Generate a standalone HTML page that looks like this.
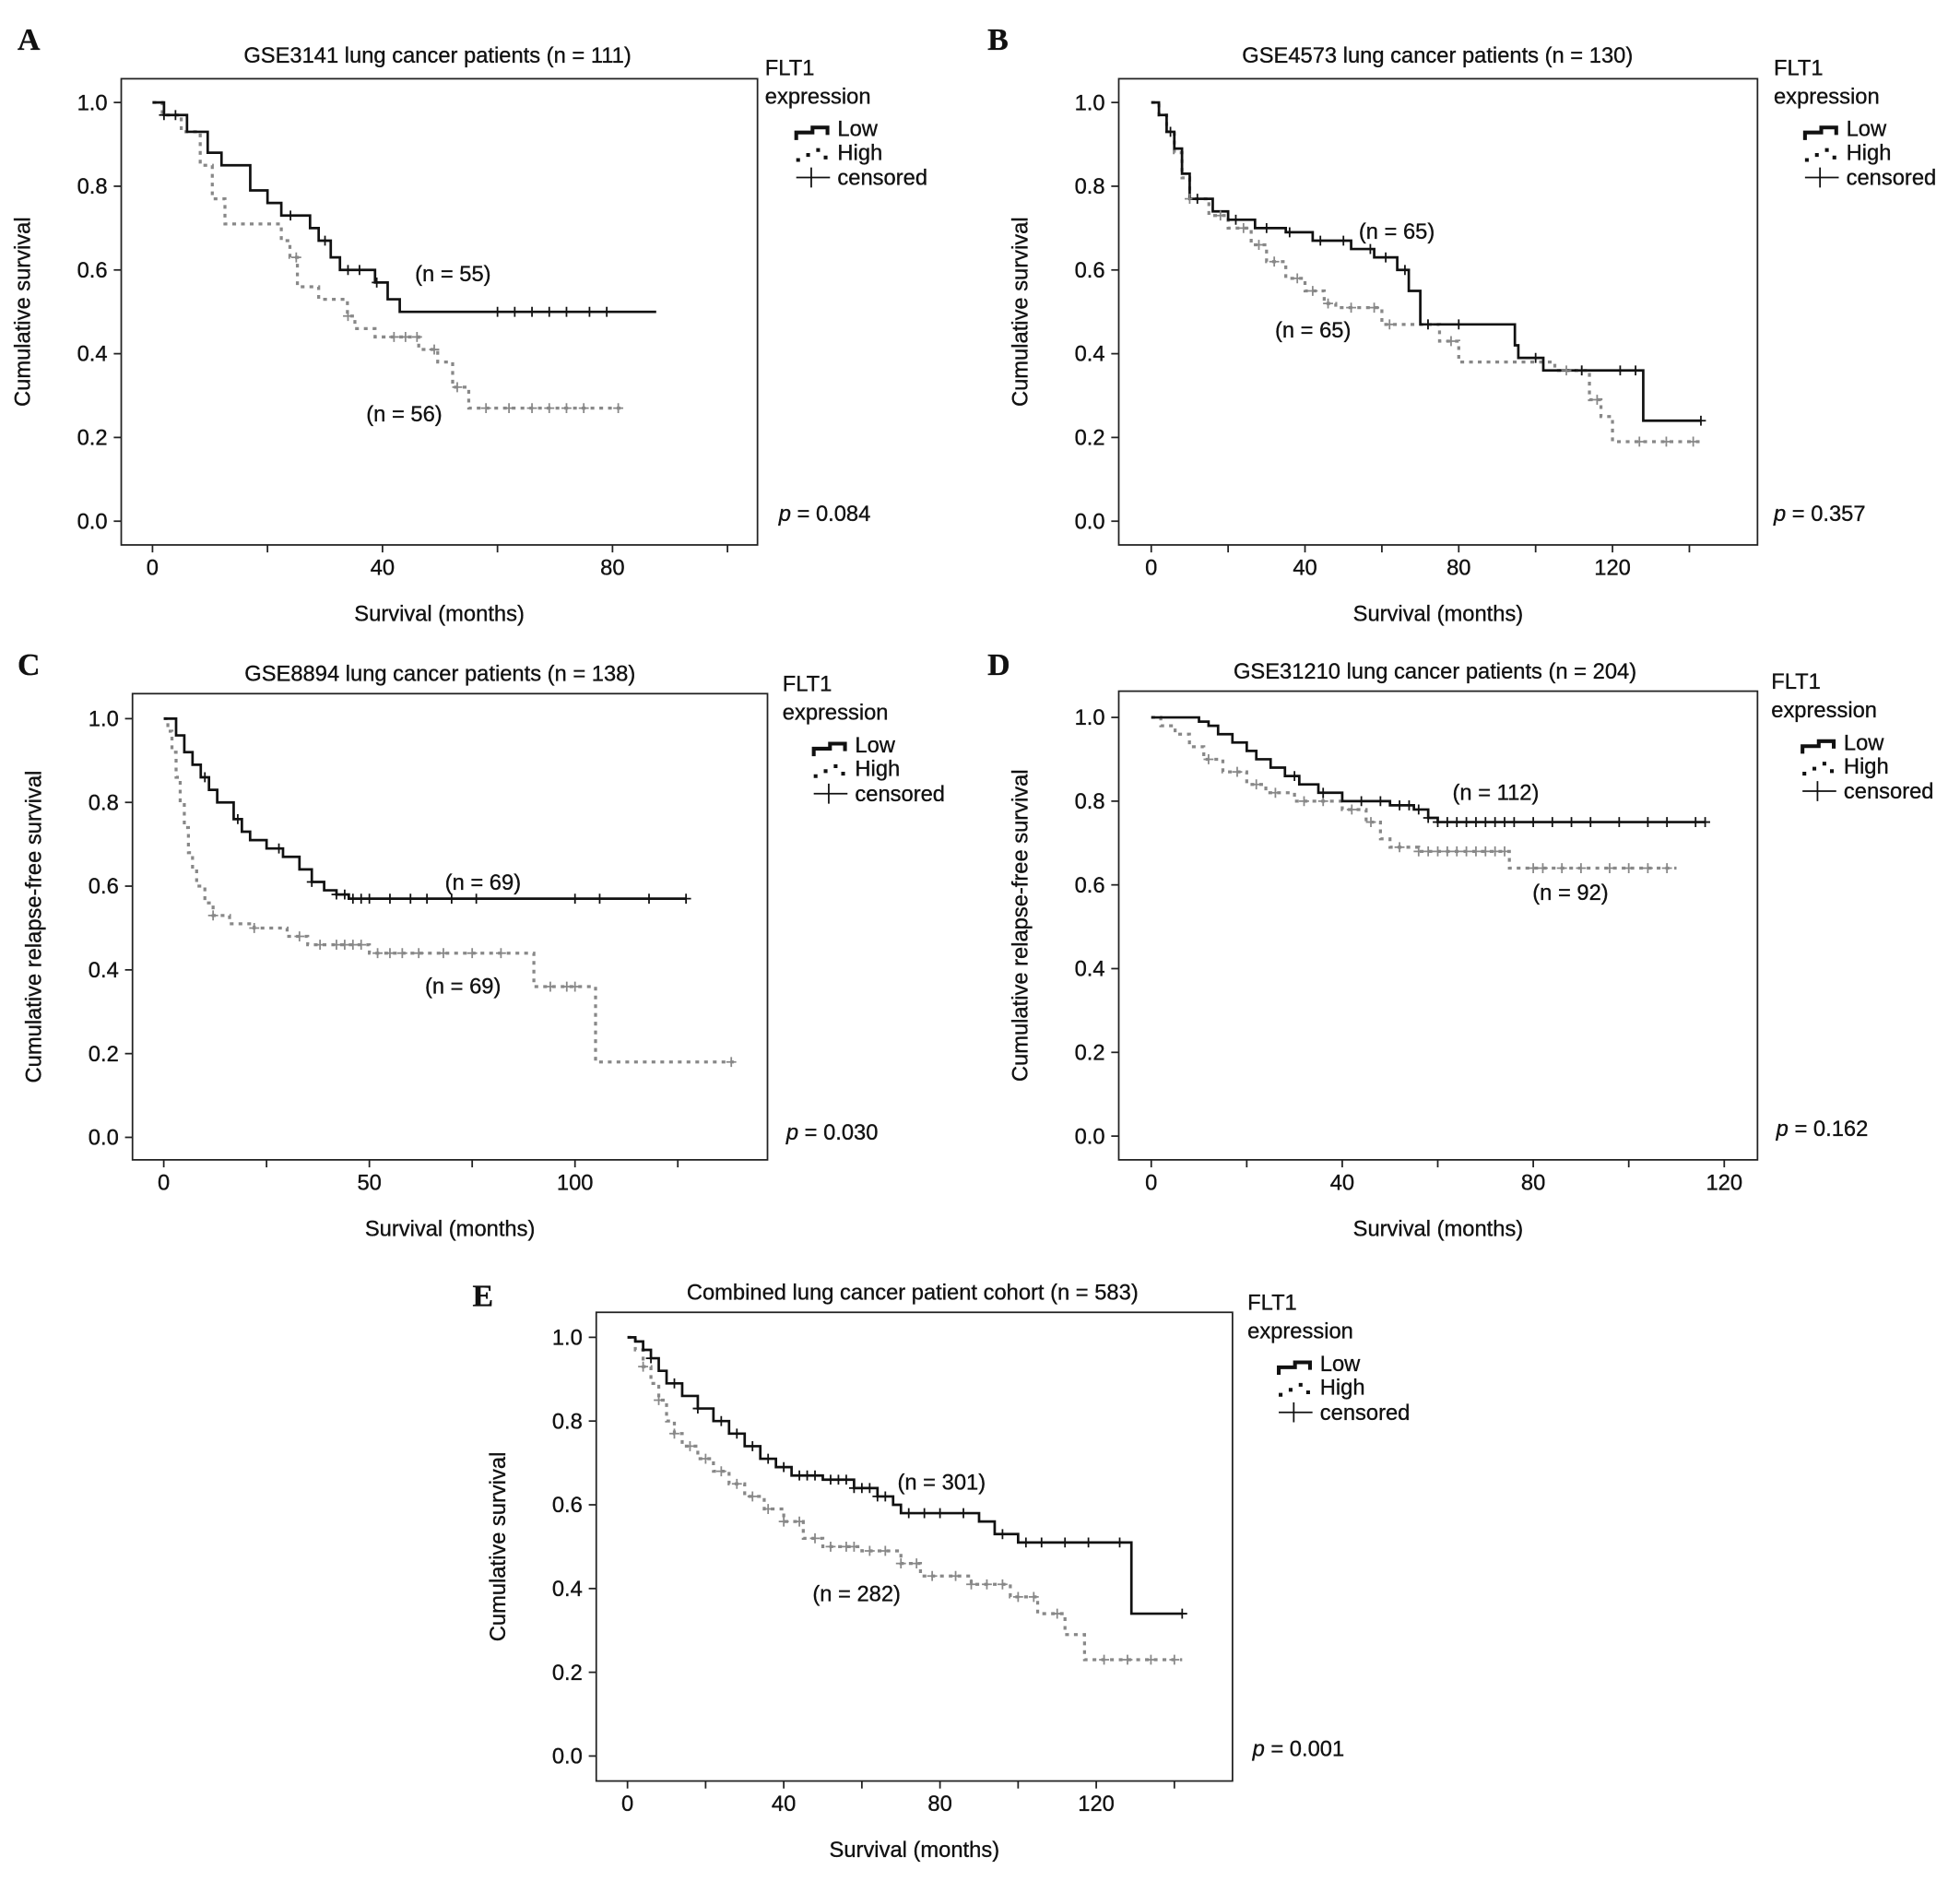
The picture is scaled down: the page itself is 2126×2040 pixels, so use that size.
<!DOCTYPE html>
<html><head><meta charset="utf-8"><style>
html,body{margin:0;padding:0;background:#fff;}
svg{display:block;}
text{font-family:"Liberation Sans",Arial,sans-serif;fill:#111;stroke:#111;stroke-width:0.25;}
</style></head><body>
<svg id="fig" width="2126" height="2040" viewBox="0 0 1568 1505" preserveAspectRatio="none" xmlns="http://www.w3.org/2000/svg"></svg>
<script>
// ---- Data (months, survival) ----
const aLow=[[0,1],[2,0.97],[6,0.93],[9.6,0.88],[12,0.85],[17,0.79],[20,0.76],[22.4,0.73],[27.4,0.70],[28.9,0.67],[31,0.63],[32.6,0.60],[38.7,0.57],[40.9,0.53],[43,0.50],[87.6,0.50]];
const aHigh=[[0,1],[1.7,0.97],[5,0.93],[8.3,0.85],[10.4,0.77],[12.6,0.71],[22.4,0.67],[23.9,0.63],[25.2,0.56],[28.9,0.53],[33.9,0.49],[35.2,0.46],[38.7,0.44],[46.3,0.41],[49.6,0.38],[52.2,0.32],[55,0.27],[81.5,0.27]];
const aLowC=[2,4,24,30,34,36,39,60,63,66,69,72,76,79];
const aHighC=[25,34,42,44,46,49,53,58,62,66,69,72,75,81];
const bLow=[[0,1],[2,0.97],[4,0.93],[6,0.89],[8,0.83],[10,0.77],[16,0.74],[20,0.72],[27,0.70],[35,0.69],[42,0.67],[52,0.65],[58,0.63],[64,0.60],[67,0.55],[70,0.47],[94.6,0.42],[95.5,0.39],[102,0.36],[128,0.24],[143,0.24]];
const bHigh=[[0,1],[2,0.97],[4,0.93],[6,0.88],[8,0.82],[10,0.77],[15,0.73],[20,0.70],[26,0.66],[30,0.62],[35,0.58],[40,0.55],[45,0.52],[48,0.51],[60,0.47],[75,0.43],[80,0.38],[105,0.36],[114,0.29],[117,0.25],[120,0.19],[143,0.19]];
const bLowC=[5,12,22,30,36,44,50,57,61,66,72,80,100,112,122,126,143];
const bHighC=[10,18,24,28,32,38,42,46,52,58,62,72,78,108,112,116,127,134,141];
const cLow=[[0,1],[3,0.96],[5,0.92],[7,0.89],[9,0.86],[11,0.83],[13,0.80],[17,0.76],[19,0.73],[21,0.71],[25,0.69],[29,0.67],[33,0.64],[36,0.61],[39,0.59],[42,0.58],[45,0.57],[127,0.57]];
const cHigh=[[0,1],[1,0.97],[2,0.92],[3,0.86],[4,0.80],[5,0.74],[6,0.68],[7,0.64],[8,0.60],[10,0.56],[12,0.53],[16,0.51],[22,0.50],[30,0.48],[35,0.46],[50,0.44],[90,0.36],[105,0.18],[138.6,0.18]];
const cLowC=[10,18,28,36,42,44,46,48,50,55,60,64,70,76,100,106,118,127];
const cHighC=[12,22,33,38,42,44,46,48,52,55,58,62,68,75,82,94,98,100,138];
const dLow=[[0,1],[10,0.99],[12,0.98],[14,0.96],[17,0.94],[20,0.92],[22,0.90],[25,0.88],[28,0.86],[31,0.84],[35,0.82],[40,0.80],[50,0.79],[55,0.78],[58,0.76],[60,0.75],[116,0.75]];
const dHigh=[[0,1],[2,0.98],[5,0.96],[8,0.93],[11,0.90],[15,0.87],[20,0.84],[24,0.82],[30,0.80],[40,0.78],[45,0.75],[48,0.71],[50,0.69],[56,0.68],[75,0.64],[110,0.64]];
const dLowC=[30,36,44,48,52,54,56,58,60,62,64,66,68,70,72,74,76,80,84,88,92,98,104,108,114,116];
const dHighC=[12,18,22,26,32,36,42,46,52,56,58,60,62,64,66,68,70,72,74,80,82,86,90,96,100,104,108];
const eLow=[[0,1],[2,0.99],[4,0.97],[6,0.95],[8,0.92],[10,0.89],[14,0.86],[18,0.83],[22,0.80],[26,0.77],[30,0.74],[34,0.71],[38,0.69],[42,0.67],[50,0.66],[58,0.64],[64,0.62],[68,0.60],[70,0.58],[90,0.56],[94,0.53],[100,0.51],[129,0.34],[142,0.34]];
const eHigh=[[0,1],[2,0.97],[4,0.93],[6,0.89],[8,0.85],[10,0.80],[12,0.77],[14,0.74],[18,0.71],[22,0.68],[26,0.65],[30,0.62],[35,0.59],[40,0.56],[45,0.52],[50,0.50],[60,0.49],[70,0.46],[75,0.43],[88,0.41],[98,0.38],[105,0.34],[112,0.29],[117,0.23],[142,0.23]];
const eLowC=[6,12,18,24,28,32,36,40,44,46,48,52,54,56,58,60,62,64,66,72,76,80,86,96,102,106,112,118,126,142];
const eHighC=[4,8,12,16,20,24,28,32,36,40,44,48,52,56,58,62,66,70,74,78,84,88,92,96,100,104,110,122,128,134,140];

const panels=[
 {id:'a',letter:'A',lx:14,ly:40,title:'GSE3141 lung cancer patients (n = 111)',tx:350,ty:50,box:[97,63,606,436],y1:82,y0:417,x0:122,pm:4.6,ticks:[0,20,40,60,80,100],labels:[0,40,80],ylab:'Cumulative  survival',low:aLow,high:aHigh,lowC:aLowC,highC:aHighC,legX:612,legY:60,p:'0.084',px:623,py:417,nl:['(n = 55)',332,225],nh:['(n = 56)',293,337]},
 {id:'b',letter:'B',lx:790,ly:40,title:'GSE4573 lung cancer patients (n = 130)',tx:1150,ty:50,box:[895,63,1406,436],y1:82,y0:417,x0:921,pm:3.075,ticks:[0,20,40,60,80,100,120,140],labels:[0,40,80,120],ylab:'Cumulative  survival',low:bLow,high:bHigh,lowC:bLowC,highC:bHighC,legX:1419,legY:60,p:'0.357',px:1419,py:417,nl:['(n = 65)',1087,191],nh:['(n = 65)',1020,270]},
 {id:'c',letter:'C',lx:14,ly:540,title:'GSE8894 lung cancer patients (n = 138)',tx:352,ty:545,box:[106,555,614,928],y1:575,y0:910,x0:131,pm:3.29,ticks:[0,25,50,75,100,125],labels:[0,50,100],ylab:'Cumulative  relapse-free  survival',low:cLow,high:cHigh,lowC:cLowC,highC:cHighC,legX:626,legY:553,p:'0.030',px:629,py:912,nl:['(n = 69)',356,712],nh:['(n = 69)',340,795]},
 {id:'d',letter:'D',lx:790,ly:540,title:'GSE31210 lung cancer patients (n = 204)',tx:1148,ty:543,box:[895,553,1406,928],y1:574,y0:909,x0:921,pm:3.82,ticks:[0,20,40,60,80,100,120],labels:[0,40,80,120],ylab:'Cumulative  relapse-free  survival',low:dLow,high:dHigh,lowC:dLowC,highC:dHighC,legX:1417,legY:551,p:'0.162',px:1421,py:909,nl:['(n = 112)',1162,640],nh:['(n = 92)',1226,720]},
 {id:'e',letter:'E',lx:378,ly:1045,title:'Combined lung cancer patient cohort (n = 583)',tx:730,ty:1040,box:[477,1050,986,1425],y1:1070,y0:1405,x0:502,pm:3.125,ticks:[0,20,40,60,80,100,120,140],labels:[0,40,80,120],ylab:'Cumulative  survival',low:eLow,high:eHigh,lowC:eLowC,highC:eHighC,legX:998,legY:1048,p:'0.001',px:1002,py:1405,nl:['(n = 301)',718,1192],nh:['(n = 282)',650,1281]}
];

const NS='http://www.w3.org/2000/svg';
const svg=document.getElementById('fig');
function mk(tag,attrs,parent,txt){const e=document.createElementNS(NS,tag);for(const k in attrs)e.setAttribute(k,attrs[k]);if(txt!==undefined)e.textContent=txt;parent.appendChild(e);return e;}

function stepPath(pts,xs,ys){let d='M'+xs(pts[0][0])+','+ys(pts[0][1]);for(let i=1;i<pts.length;i++){d+=' H'+xs(pts[i][0])+' V'+ys(pts[i][1]);}return d;}
function survAt(pts,t){let s=pts[0][1];for(const p of pts){if(p[0]<=t)s=p[1];}return s;}
const FS=17.5;

panels.forEach(P=>{
 const g=mk('g',{},svg);
 
 
 const xs=t=>P.x0+t*P.pm;
 const ys=v=>P.y0-(P.y0-P.y1)*v;
 const [bx1,by1,bx2,by2]=P.box;
 const lt=mk('text',{x:P.lx,y:P.ly,'font-size':25,'font-weight':'bold',style:'font-family:"Liberation Serif",serif'},g,P.letter);
 
 
 const tt=mk('text',{x:P.tx,y:P.ty,'font-size':FS,'text-anchor':'middle'},g,P.title);
 
 
 const box=mk('rect',{x:bx1,y:by1,width:bx2-bx1,height:by2-by1,fill:'none',stroke:'#222','stroke-width':1.3},g);
 
 
 for(let v=0;v<=1.001;v+=0.2){
  const y=ys(v);
  mk('line',{x1:bx1-6,x2:bx1,y1:y,y2:y,stroke:'#222','stroke-width':1.3},g);
  const yl=mk('text',{x:bx1-11,y:y+6,'font-size':FS,'text-anchor':'end'},g,v.toFixed(1));
  
  
 }
 P.ticks.forEach(t=>{mk('line',{x1:xs(t),x2:xs(t),y1:by2,y2:by2+6,stroke:'#222','stroke-width':1.3},g);});
 P.labels.forEach(t=>{
  const xl=mk('text',{x:xs(t),y:by2+24,'font-size':FS,'text-anchor':'middle'},g,String(t));
  
  
 });
 const xt=mk('text',{x:(bx1+bx2)/2,y:by2+61,'font-size':FS,'text-anchor':'middle'},g,'Survival (months)');
 
 
 const yx=bx1-73, yy=(by1+by2)/2;
 const yt=mk('text',{x:yx,y:yy,'font-size':FS,'text-anchor':'middle',transform:'rotate(-90 '+yx+' '+yy+')'},g,P.ylab);
 
 
 const hp=mk('path',{d:stepPath(P.high,xs,ys),fill:'none',stroke:'#888','stroke-width':2.4,'stroke-dasharray':'3,4'},g);
 
 
 const lp=mk('path',{d:stepPath(P.low,xs,ys),fill:'none',stroke:'#111','stroke-width':2},g);
 
 
 P.highC.forEach(t=>{const x=xs(t),y=ys(survAt(P.high,t));
  const c=mk('path',{d:`M${x-4},${y} H${x+4} M${x},${y-4} V${y+4}`,stroke:'#888','stroke-width':1.3},g);
  
  });
 P.lowC.forEach(t=>{const x=xs(t),y=ys(survAt(P.low,t));
  const c=mk('path',{d:`M${x-4},${y} H${x+4} M${x},${y-4} V${y+4}`,stroke:'#111','stroke-width':1.3},g);
  
  });
 const n1=mk('text',{x:P.nl[1],y:P.nl[2],'font-size':FS},g,P.nl[0]);
 
 
 const n2=mk('text',{x:P.nh[1],y:P.nh[2],'font-size':FS},g,P.nh[0]);
 
 
 const L=mk('g',{},g);
 
 
 const lx=P.legX, ly=P.legY;
 mk('text',{x:lx,y:ly,'font-size':FS},L,'FLT1');
 mk('text',{x:lx,y:ly+23,'font-size':FS},L,'expression');
 mk('path',{d:`M${lx+25},${ly+52} V${ly+46} H${lx+38} V${ly+42} H${lx+50} V${ly+48}`,fill:'none',stroke:'#111','stroke-width':3},L);
 mk('text',{x:lx+58,y:ly+49,'font-size':FS},L,'Low');
 mk('path',{d:`M${lx+25},${ly+68} h3 M${lx+33},${ly+64} h3 M${lx+41},${ly+60} h3 M${lx+47},${ly+66} h3`,fill:'none',stroke:'#111','stroke-width':3},L);
 mk('text',{x:lx+58,y:ly+68,'font-size':FS},L,'High');
 mk('path',{d:`M${lx+25},${ly+82} H${lx+52} M${lx+37},${ly+74} V${ly+90}`,fill:'none',stroke:'#111','stroke-width':1.3},L);
 mk('text',{x:lx+58,y:ly+88,'font-size':FS},L,'censored');
 const pt=mk('text',{x:P.px,y:P.py,'font-size':FS},g);
 
 
 mk('tspan',{'font-style':'italic'},pt,'p');
 mk('tspan',{},pt,' = '+P.p);
});
</script>
</body></html>
